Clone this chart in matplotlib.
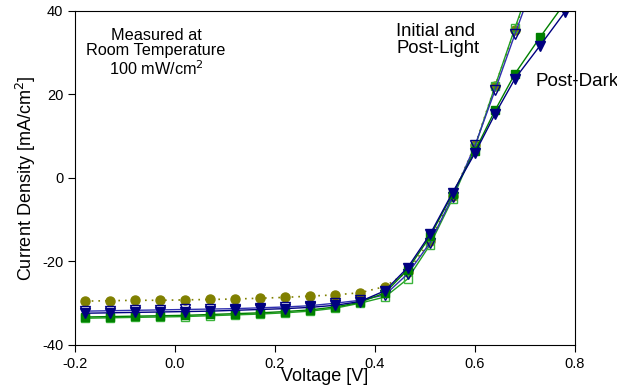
import matplotlib
matplotlib.use('Agg')
import matplotlib.pyplot as plt

plt.rcParams['font.family'] = ['Liberation Sans', 'DejaVu Sans']
plt.rcParams['axes.unicode_minus'] = False

# voltage points (V)
volts = [-0.18, -0.13, -0.08, -0.03, 0.02, 0.07, 0.12, 0.17, 0.22, 0.27, 0.32, 0.37,
         0.42, 0.465, 0.51, 0.555, 0.60, 0.64, 0.68, 0.73, 0.78]

# current density (mA/cm^2)
initial_circ = [-29.5, -29.4, -29.3, -29.3, -29.2, -29.1, -29.0, -28.8, -28.6, -28.3, -28.0, -27.5,
                -26.0, -22.5, -15.0, -4.2, 7.8, 22.0, 35.5, 53.0]
light_sq = [-33.6, -33.5, -33.4, -33.3, -33.2, -33.0, -32.8, -32.6, -32.3, -31.9, -31.2, -30.0,
            -28.5, -24.2, -16.0, -5.0, 7.5, 22.0, 36.0, 53.0]
light_tri = [-31.9, -31.8, -31.7, -31.6, -31.5, -31.4, -31.3, -31.1, -30.9, -30.6, -30.0, -29.3,
             -28.0, -23.0, -15.5, -4.5, 7.8, 21.0, 34.5, 51.0]
dark_sq = [-33.3, -33.2, -33.1, -33.0, -32.9, -32.7, -32.5, -32.3, -32.0, -31.6, -30.9, -29.8,
           -27.5, -22.0, -14.0, -3.8, 6.5, 16.2, 25.0, 33.7, 42.0]
dark_tri = [-32.4, -32.3, -32.2, -32.1, -32.0, -31.9, -31.7, -31.5, -31.3, -31.0, -30.5, -29.6,
            -27.0, -21.5, -13.5, -3.5, 6.0, 15.3, 23.8, 31.7, 39.8]

fig = plt.figure(figsize=(6.17, 3.92), dpi=100)
ax = fig.add_axes([0.1216, 0.120, 0.8104, 0.852])

# initial curve (circles) sits underneath
ax.plot(volts[:len(initial_circ)], initial_circ, color='#808000', lw=1.2, ls=(0, (1, 3)),
        marker='o', ms=6.5, mfc='#808000', mec='#808000')

# post-light curves (open markers)
ax.plot(volts[:len(light_sq)], light_sq, color='#22a022', lw=1, marker='s', ms=6,
        mfc='none', mec='#3cb43c', mew=1)
ax.plot(volts[:len(light_tri)], light_tri, color='#3030b0', lw=1, marker='v', ms=7,
        mfc='none', mec='#000080', mew=1)

# post-dark curves
ax.plot(volts, dark_sq, color='#008000', lw=1, marker='s', ms=6, mfc='#008000', mec='#008000')
ax.plot(volts, dark_tri, color='#000080', lw=1, marker='v', ms=7, mfc='#000080', mec='#000080')

ax.set_xlim(-0.2, 0.8)
ax.set_ylim(-40, 40)
ax.set_xticks([-0.2, 0.0, 0.2, 0.4, 0.6, 0.8])
ax.set_xticklabels(['-0.2', '0.0', '0.2', '0.4', '0.6', '0.8'])
ax.set_yticks([-40, -20, 0, 20, 40])
ax.tick_params(direction='out', length=5, labelsize=10.5, top=False, right=False)
ax.set_xlabel('Voltage [V]', fontsize=13, labelpad=-2)
ax.set_ylabel('Current Density [mA/cm$^2$]', fontsize=13, labelpad=3)

ax.text(0.162, 0.95, 'Measured at\nRoom Temperature\n100 mW/cm$^2$', transform=ax.transAxes,
        ha='center', va='top', fontsize=11.7, linespacing=1.05)
ax.text(0.642, 0.965, 'Initial and\nPost-Light', transform=ax.transAxes,
        ha='left', va='top', fontsize=13.3, linespacing=1.0)
ax.text(0.92, 0.79, 'Post-Dark', transform=ax.transAxes,
        ha='left', va='center', fontsize=13.5, clip_on=False)

fig.savefig('out.png', dpi=100)
